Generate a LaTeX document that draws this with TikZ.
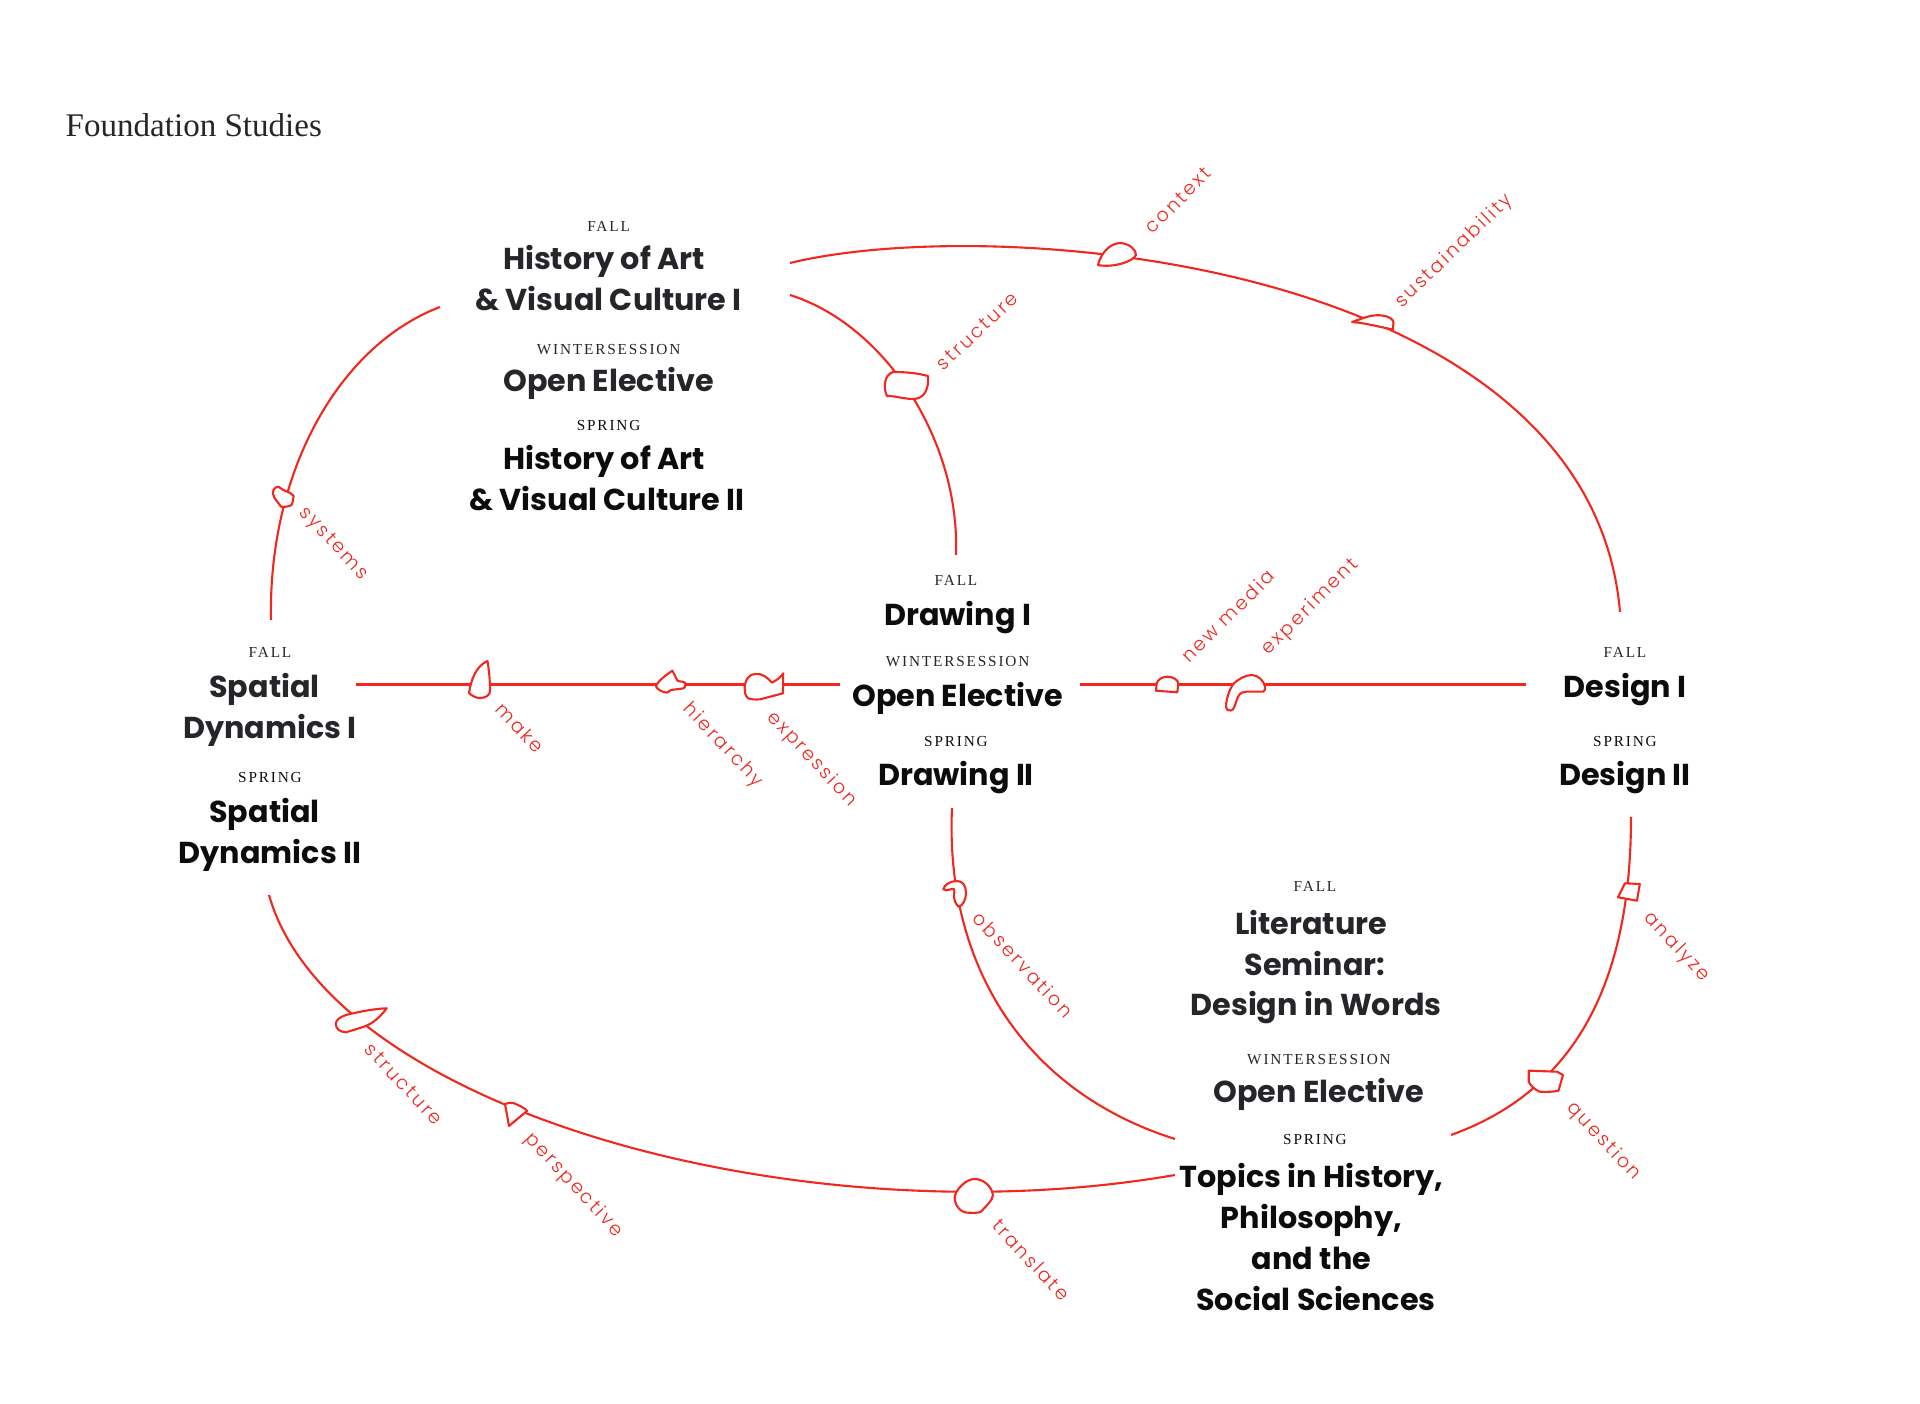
\documentclass[tikz,border=0pt]{standalone}
\usepackage{fontspec}
\setmainfont{Liberation Serif}
\newfontfamily\headf{Poppins Bold}
\newfontfamily\capsf{Liberation Serif}[LetterSpace=12]
\newfontfamily\labf{Poppins Light}[LetterSpace=12.5]
\definecolor{curve}{HTML}{F0281E}
\definecolor{inkA}{HTML}{26262A}
\definecolor{inkB}{HTML}{0C0C0E}
\tikzset{
  headA/.style={inner sep=0pt,text height=6.1pt,text depth=0pt,font=\headf\fontsize{8.6}{10}\selectfont,text=inkA},
  headB/.style={headA,text=inkB},
  termA/.style={inner sep=0pt,text height=3pt,text depth=0pt,font=\capsf\fontsize{4.35}{5}\selectfont,text=inkA},
  termB/.style={termA,text=inkB},
  lab/.style={inner sep=0pt,text height=3pt,text depth=0pt,font=\labf\fontsize{5.4}{6}\selectfont,text=curve},
  up/.style={lab,rotate=45},
  down/.style={lab,rotate=-47},
  conn/.style={draw=curve,line width=0.6pt},
  blob/.style={draw=curve,fill=white,line width=0.6pt,line join=round}
}
\begin{document}
\begin{tikzpicture}[x=0.01cm,y=-0.01cm]
\useasboundingbox (0,0) rectangle (1920,1404);
% connector ends
\coordinate (aS) at (790,263); \coordinate (aE) at (1620,612);
\coordinate (bS) at (790,295); \coordinate (bE) at (956,555);
\coordinate (cS) at (440,307); \coordinate (cE) at (271,620);
\coordinate (dS) at (356,684.5); \coordinate (dE) at (840,684.5);
\coordinate (eS) at (1080,684.5); \coordinate (eE) at (1526,684.5);
\coordinate (fS) at (952,808); \coordinate (fE) at (1175,1139);
\coordinate (gS) at (1631,817); \coordinate (gE) at (1451,1135);
\coordinate (hS) at (269,895); \coordinate (hE) at (1175,1175);
% connectors
\draw[conn] (aS) .. controls (1000,212) and (1590,262) .. (aE);
\draw[conn] (bS) .. controls (885,325) and (960,440) .. (bE);
\draw[conn] (cS) .. controls (340,345) and (268,470) .. (cE);
\draw[conn] (dS) -- (dE);
\draw[conn] (eS) -- (eE);
\draw[conn] (fS) .. controls (945,960) and (1020,1090) .. (fE);
\draw[conn] (gS) .. controls (1631,960) and (1590,1085) .. (gE);
\draw[conn] (hS) .. controls (330,1110) and (800,1240) .. (hE);
% blobs
\draw[blob] (893,372) .. controls (905,372) and (917,373) .. (928,376) .. controls (929,388) and (925,399) .. (913,399) .. controls (904,399) and (896,396) .. (887,396) .. controls (883,388) and (884,375) .. (893,372) -- cycle;
\draw[blob] (1098,265) .. controls (1102,250) and (1112,243) .. (1121,243) .. controls (1129,244) and (1136,249) .. (1136,255) .. controls (1133,262) and (1112,268) .. (1098,265) -- cycle;
\draw[blob] (1352,322) -- (1365,317.5) .. controls (1372,315) and (1378,315) .. (1382,315.5) .. controls (1389,316) and (1394,320) .. (1393.5,323) -- (1392.7,329.5) .. controls (1380,327) and (1365,323) .. (1352,322) -- cycle;
\draw[blob] (279,487) .. controls (284,492) and (290,491) .. (293.6,496) .. controls (293,500) and (293,503) .. (291.5,505) .. controls (288,507) and (284,507) .. (281,506.7) .. controls (278,502) and (274,499) .. (272.8,493.3) .. controls (273,489) and (276,486) .. (279,487) -- cycle;
\draw[blob] (487.5,661) .. controls (476,666) and (471,680) .. (469,693) .. controls (472,696) and (476,698) .. (480,698) .. controls (486,698) and (490,695) .. (490,691) .. controls (490,680) and (489,670) .. (487.5,661) -- cycle;
\draw[blob] (672.4,670.7) -- (677.4,680.7) .. controls (680,682) and (685,681) .. (685.7,684) .. controls (686,687) and (684,688) .. (683,688.5) -- (671,690) -- (667,692.7) .. controls (661,692) and (657,689) .. (655.8,686) .. controls (659,680) and (666,675) .. (672.4,670.7) -- cycle;
\draw[blob] (744.6,688.3) .. controls (745,680) and (749,674) .. (755,674) .. controls (762,673) and (768,678) .. (772,682.7) .. controls (777,680) and (781,677) .. (783.2,673.3) -- (783,693.3) -- (760.4,699.3) .. controls (755,700) and (750,699) .. (748,698.3) .. controls (745,695) and (744.6,692) .. (744.6,688.3) -- cycle;
\draw[blob] (1156.7,683.3) .. controls (1158,679) and (1163,676.7) .. (1167.3,676.7) .. controls (1173,676.7) and (1178,680) .. (1178.3,683.3) -- (1177.3,692.3) -- (1156,690.7) -- cycle;
\draw[blob] (1233.3,684) .. controls (1238,679) and (1246,675) .. (1251.7,675) .. controls (1258,675) and (1264,681) .. (1265,686.7) .. controls (1265,689) and (1265,691) .. (1263.3,691.7) -- (1246,691.7) .. controls (1240,692) and (1238,696) .. (1236.7,700) .. controls (1235,705) and (1234,710) .. (1231,710.5) .. controls (1228,711) and (1226,710) .. (1226,707) .. controls (1226,700) and (1229,690) .. (1233.3,684) -- cycle;
\draw[blob] (386.7,1008.3) .. controls (372,1009) and (358,1012) .. (346,1015) .. controls (340,1017) and (336,1020) .. (335.7,1024) .. controls (336,1029) and (340,1032) .. (346,1032.3) -- (361,1027.7) .. controls (370,1025) and (378,1020) .. (386.7,1008.3) -- cycle;
\draw[blob] (505,1104) .. controls (508,1102) and (511,1103) .. (514.3,1103.3) .. controls (520,1106) and (525,1108) .. (527,1111) -- (509,1126) -- cycle;
\draw[blob] (974.5,1179) .. controls (966,1179) and (955,1190) .. (954.6,1198) .. controls (955,1206) and (961,1213) .. (968.4,1212.7) .. controls (974,1213) and (978,1213) .. (981,1211.7) .. controls (986,1206) and (993,1200) .. (992.9,1195) .. controls (992,1187) and (984,1179) .. (974.5,1179) -- cycle;
\draw[blob] (957,881) .. controls (963,881) and (966,886) .. (966,893) .. controls (966,899) and (963,906) .. (958.5,906.7) .. controls (955,903) and (954,900) .. (954,896.7) .. controls (954,893) and (955,890) .. (954,889) .. controls (951,888) and (947,892) .. (943.4,889.3) .. controls (944,885) and (950,881) .. (957,881) -- cycle;
\draw[blob] (1625,883.3) -- (1639.8,884) -- (1637,900.7) -- (1618,897.3) -- cycle;
\draw[blob] (1528.7,1070.7) -- (1557,1071.7) -- (1563,1075) -- (1558.5,1090.7) .. controls (1553,1092) and (1546,1092) .. (1539.6,1091.7) .. controls (1534,1089) and (1530,1085) .. (1528.7,1081.7) -- cycle;
% title
\node[anchor=base west,inner sep=0pt,text=inkA,font=\fontsize{9.4}{11}\selectfont] (title) at (65,137) {Foundation Studies};
% history block
\node[termA] (t1) at (608.6,226.5) {FALL};
\node[headA] (n1) at (604,258.5) {History of Art};
\node[headA] (n2) at (608.6,299.5) {\& Visual Culture I};
\node[termA] (t2) at (608.6,349) {WINTERSESSION};
\node[headA] (n3) at (608.6,381) {Open Elective};
\node[termB] (t3) at (608.6,425) {SPRING};
\node[headB] (n4) at (604,459) {History of Art};
\node[headB] (n5) at (607,500) {\& Visual Culture II};
% spatial block
\node[termA] (t4) at (270,652.6) {FALL};
\node[headA] (n6) at (264.5,687) {Spatial};
\node[headA] (n7) at (270,728) {Dynamics I};
\node[termB] (t5) at (270,777.5) {SPRING};
\node[headB] (n8) at (264.5,812) {Spatial};
\node[headB] (n9) at (270,853) {Dynamics II};
% drawing block
\node[termA] (t6) at (956,580.4) {FALL};
\node[headB] (n10) at (957.6,614.7) {Drawing I};
\node[termA] (t7) at (957.6,661) {WINTERSESSION};
\node[headB] (n11) at (957.6,695.5) {Open Elective};
\node[termB] (t8) at (956,741) {SPRING};
\node[headB] (n12) at (956,774.5) {Drawing II};
% design block
\node[termA] (t9) at (1625,652.6) {FALL};
\node[headB] (n13) at (1625,687) {Design I};
\node[termB] (t10) at (1625,741) {SPRING};
\node[headB] (n14) at (1625,774.5) {Design II};
% literature block
\node[termA] (t11) at (1315,886.5) {FALL};
\node[headA] (n15) at (1311,924) {Literature};
\node[headA] (n16) at (1315,965) {Seminar:};
\node[headA] (n17) at (1316,1005) {Design in Words};
\node[termA] (t12) at (1319,1059) {WINTERSESSION};
\node[headA] (n18) at (1319,1092) {Open Elective};
\node[termB] (t13) at (1315,1139) {SPRING};
\node[headB] (n19) at (1311.5,1177) {Topics in History,};
\node[headB] (n20) at (1311.5,1218) {Philosophy,};
\node[headB] (n21) at (1311.5,1259) {and the};
\node[headB] (n22) at (1316,1300) {Social Sciences};
% concept labels
\node[up] (l1) at (1179,201) {context};
\node[up,rotate=-1] (l2) at (1454,251) {sustainability};
\node[up,rotate=-2] (l3) at (978,332) {structure};
\node[down] (l4) at (334,543) {systems};
\node[down] (l5) at (519,729) {make};
\node[down] (l6) at (723,745) {hierarchy};
\node[down] (l7) at (812,759) {expression};
\node[up] (l8) at (1229,617) {new media};
\node[up] (l9) at (1310,607) {experiment};
\node[down] (l10) at (1022,966) {observation};
\node[down] (l11) at (1677,947) {analyze};
\node[down] (l12) at (1604,1141) {question};
\node[down] (l13) at (403,1085) {structure};
\node[down] (l14) at (574,1185) {perspective};
\node[down] (l15) at (1030,1261) {translate};
\end{tikzpicture}
\end{document}
